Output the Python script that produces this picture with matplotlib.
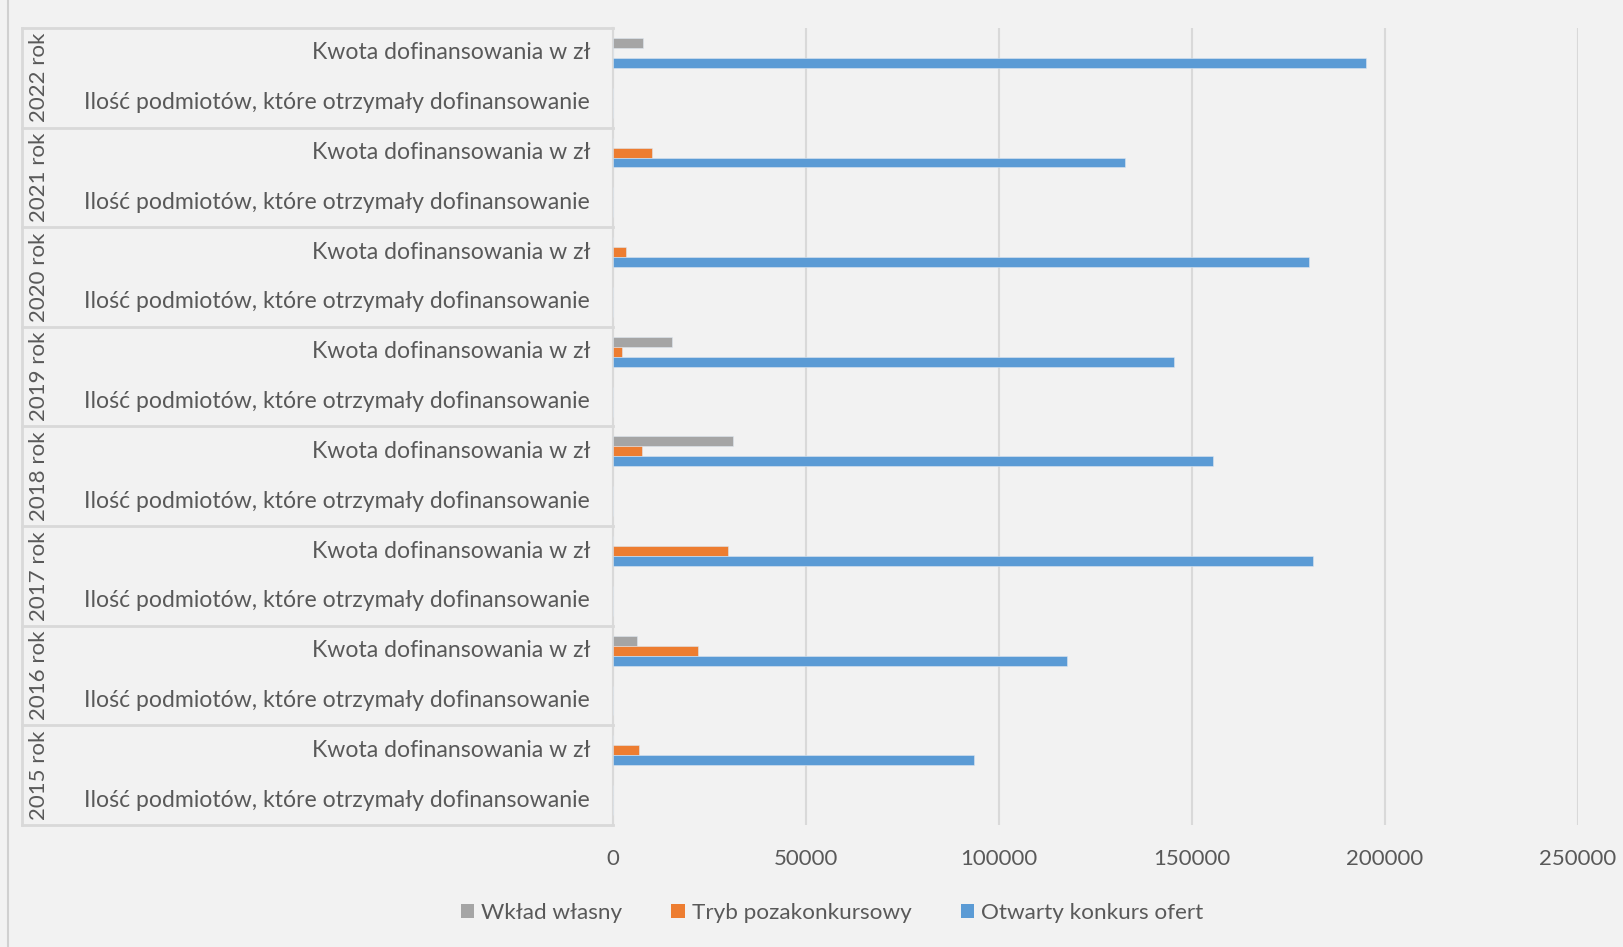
import numpy as np
import matplotlib.pyplot as plt
from matplotlib.patches import Patch

years = ["2015 rok", "2016 rok", "2017 rok", "2018 rok", "2019 rok", "2020 rok", "2021 rok", "2022 rok"]
subcats = ["Ilość podmiotów, które otrzymały dofinansowanie", "Kwota dofinansowania w zł"]

# Kwota dofinansowania w zł (per year, 2015..2022)
otwarty_kwota = [93600, 117500, 181400, 155400, 145400, 180300, 132700, 195000]
tryb_kwota = [6800, 22000, 29700, 7500, 2300, 3300, 10000, 0]
wklad_kwota = [0, 6100, 0, 31000, 15400, 0, 0, 7800]
# Ilość podmiotów (counts, too small to see at this scale)
otwarty_ilosc = [6, 7, 9, 8, 8, 9, 7, 9]
tryb_ilosc = [1, 2, 2, 1, 1, 1, 1, 0]
wklad_ilosc = [0, 1, 0, 2, 1, 0, 0, 1]

series = ["Wkład własny", "Tryb pozakonkursowy", "Otwarty konkurs ofert"]
colors = ["#A5A5A5", "#ED7D31", "#5B9BD5"]

W, H = 1623, 947
bg = "#F2F2F2"
txt = "#595959"
line_c = "#D9D9D9"
plt.rcParams['font.family'] = ['Lato', 'DejaVu Sans']

fig = plt.figure(figsize=(W / 100, H / 100), dpi=100, facecolor=bg)
x0, x1, y_top, y_bot = 613, 1578, 28, 825
ax = fig.add_axes([x0 / W, (H - y_bot) / H, (x1 - x0) / W, (y_bot - y_top) / H])
ax.set_facecolor(bg)

# interleave: position 2*i = Ilość, 2*i+1 = Kwota
def interleave(ilosc, kwota):
    out = []
    for a, b in zip(ilosc, kwota):
        out += [a, b]
    return out

data = [interleave(wklad_ilosc, wklad_kwota),
        interleave(tryb_ilosc, tryb_kwota),
        interleave(otwarty_ilosc, otwarty_kwota)]
offsets = [0.2, 0.0, -0.2]
pos = np.arange(len(years) * 2)
for vals, off, c, name in zip(data, offsets, colors, series):
    ax.barh(pos + off, vals, height=0.2, color=c, edgecolor="#DDE6F0", linewidth=0.4, label=name, zorder=3)

ax.set_xlim(0, 250000)
ax.set_ylim(-0.5, len(pos) - 0.5)
ax.set_xticks(np.arange(0, 250001, 50000))
ax.set_yticks([])
ax.tick_params(axis='x', length=0, pad=17, labelsize=16, labelcolor=txt)
ax.grid(axis='x', color=line_c, linewidth=1.5, zorder=0)
for s in ["top", "right", "bottom"]:
    ax.spines[s].set_visible(False)
ax.spines["left"].set_color(line_c)
ax.spines["left"].set_linewidth(1.5)

tr = ax.get_yaxis_transform()
left_ax = (22 - x0) / (x1 - x0)
lab_x = (590 - x0) / (x1 - x0)
year_x = (39 - x0) / (x1 - x0)
for p in pos:
    ax.text(lab_x, p, subcats[p % 2], transform=tr, ha="right", va="center",
            fontsize=16.6, color=txt)
for i, y in enumerate(years):
    ax.text(year_x, 2 * i + 0.5, y, transform=tr, ha="center", va="center",
            rotation=90, fontsize=16, color=txt)
for k in range(len(years) + 1):
    yb = 2 * k - 0.5
    ax.plot([left_ax, 0], [yb, yb], transform=tr, color=line_c, linewidth=2, clip_on=False)
ax.plot([left_ax, left_ax], [-0.5, len(pos) - 0.5], transform=tr, color=line_c, linewidth=2, clip_on=False)

# chart frame left edge
fig.add_artist(plt.Line2D([8 / W, 8 / W], [0, 1], color="#D0D0D0", linewidth=1.5))

handles = [Patch(facecolor=c, label=n) for c, n in zip(colors, series)]
fig.legend(handles=handles, loc="center", bbox_to_anchor=(832 / W, 1 - 882 / 915), ncol=3,
           frameon=False, fontsize=16.2, labelcolor=txt, handlelength=0.6, handleheight=0.6,
           handletextpad=0.3, columnspacing=2.2)

fig.savefig("out.png", dpi=100, facecolor=bg)
